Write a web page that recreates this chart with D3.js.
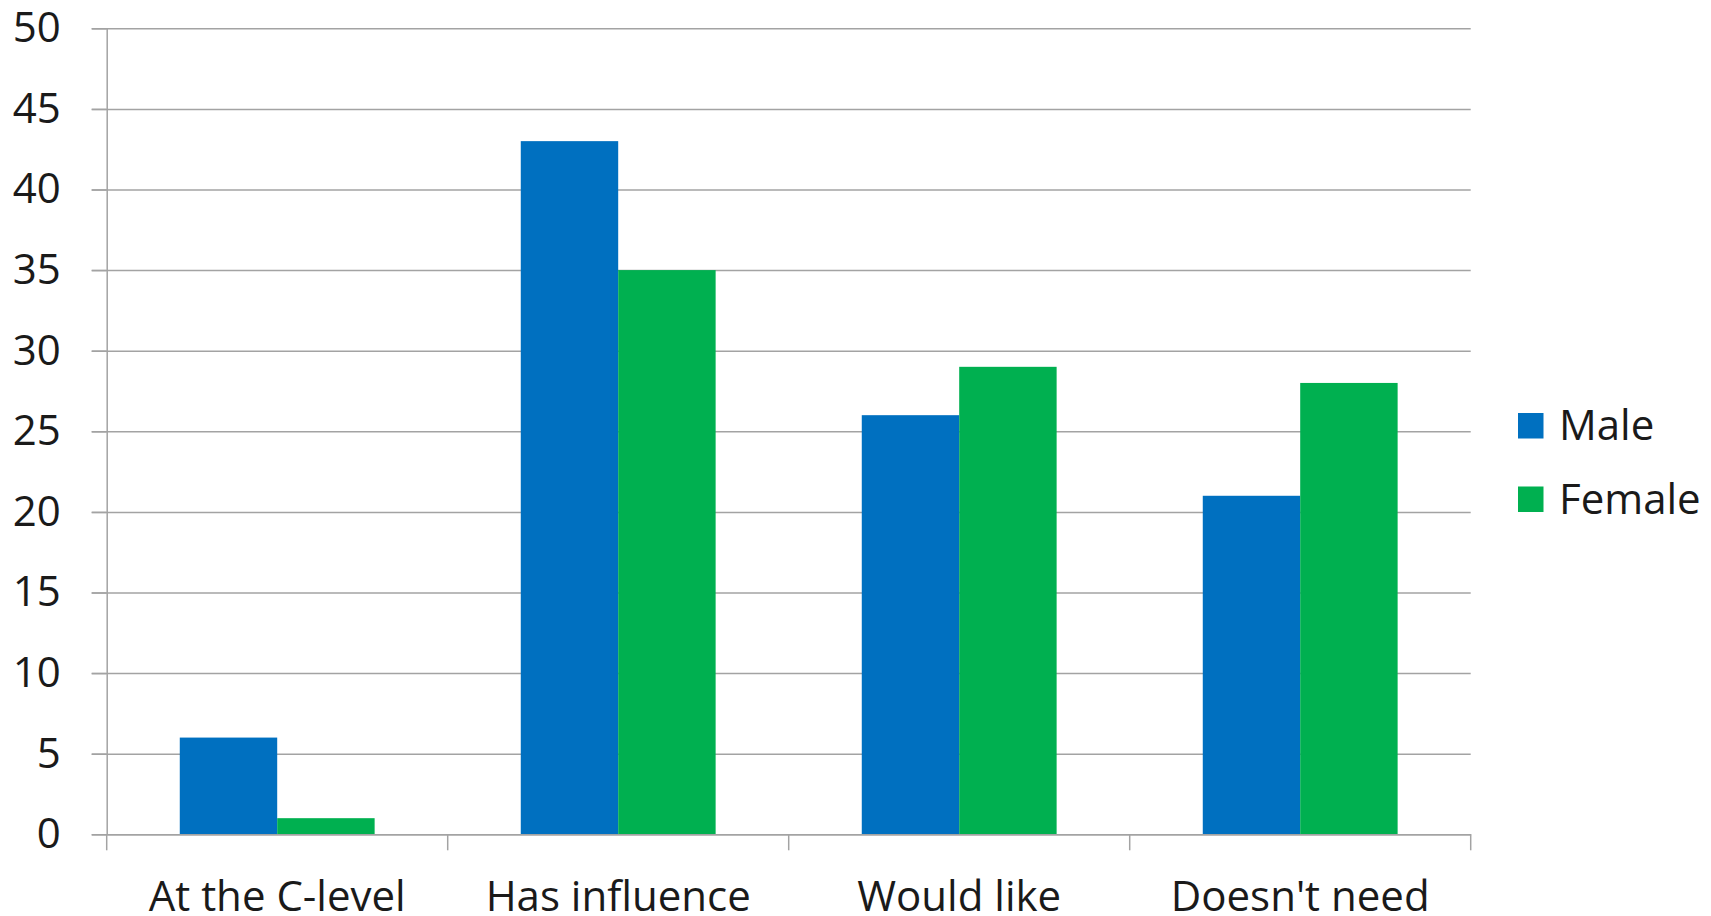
<!DOCTYPE html>
<html>
<head>
<meta charset="utf-8">
<script src="https://d3js.org/d3.v7.min.js"></script>
<style>
  html, body { margin: 0; padding: 0; background: #fff; }
  svg text { font-family: "Open Sans", "Noto Sans", sans-serif; fill: #1a1a1a; }
</style>
</head>
<body>
<svg id="chart" width="1711" height="916"></svg>
<script>
// Survey responses by gender
const categories = ["At the C-level", "Has influence", "Would like", "Doesn't need"];
const seriesNames = ["Male", "Female"];
const maleValues = [6, 43, 26, 21];
const femaleValues = [1, 35, 29, 28];
const yTicks = [0, 5, 10, 15, 20, 25, 30, 35, 40, 45, 50];
const colors = ["#0070C0", "#00B050"];

const seriesValues = [maleValues, femaleValues];

const svg = d3.select("#chart");
const plotLeft = 106.7, plotRight = 1470.7, plotTop = 28.3, plotBottom = 834.3;
const gridColor = "#a3a3a3";
const fontSize = 42;

const x0 = d3.scaleBand().domain(categories).range([plotLeft, plotRight]).paddingInner(0).paddingOuter(0);
const x1 = d3.scaleBand().domain(seriesNames).range([0, x0.bandwidth()]).paddingInner(0).paddingOuter(0.75);
const y = d3.scaleLinear().domain([0, 50]).range([plotBottom, plotTop]);

// horizontal gridlines, extending left past the axis as tick marks
const grid = svg.append("g").attr("transform", `translate(${plotRight},0)`)
  .call(d3.axisLeft(y).tickValues(yTicks).tickSize(plotRight - plotLeft + 15).tickFormat(""));
grid.select(".domain").remove();
grid.selectAll("line").attr("stroke", gridColor).attr("stroke-width", 1.5);

// y axis line and labels
const yAxis = svg.append("g").attr("transform", `translate(${plotLeft},0)`)
  .call(d3.axisLeft(y).tickValues(yTicks).tickSize(15).tickSizeOuter(0).tickPadding(31));
yAxis.select(".domain").attr("stroke", gridColor).attr("stroke-width", 1.5);
yAxis.selectAll("line").attr("stroke", gridColor).attr("stroke-width", 1.5);
yAxis.selectAll("text").style("font-size", fontSize + "px").attr("fill", "#1a1a1a");

// bars
const groups = svg.append("g").selectAll("g")
  .data(categories).join("g")
  .attr("transform", d => `translate(${x0(d)},0)`);

groups.selectAll("rect")
  .data((c, i) => seriesNames.map((s, j) => ({ s, v: seriesValues[j][i], j })))
  .join("rect")
  .attr("x", d => x1(d.s))
  .attr("width", x1.bandwidth())
  .attr("y", d => y(d.v))
  .attr("height", d => y(0) - y(d.v))
  .attr("fill", d => colors[d.j]);

// x axis baseline with category-boundary ticks
const xAxis = svg.append("g").attr("transform", `translate(0,${plotBottom})`)
  .call(d3.axisBottom(x0).tickSize(0).tickPadding(47));
xAxis.select(".domain").attr("stroke", gridColor).attr("stroke-width", 1.5);
xAxis.selectAll("text").style("font-size", fontSize + "px").attr("fill", "#1a1a1a");

const bounds = categories.map(c => x0(c)).concat([x0.range()[1]]);
xAxis.append("g").selectAll("line").data(bounds).join("line")
  .attr("x1", d => d).attr("x2", d => d)
  .attr("y1", 0).attr("y2", 16)
  .attr("stroke", gridColor).attr("stroke-width", 1.5);

// legend
const legend = svg.append("g").attr("transform", "translate(1518,413)");
const item = legend.selectAll("g").data(seriesNames).join("g")
  .attr("transform", (d, i) => `translate(0,${i * 73.5})`);
item.append("rect").attr("width", 25.5).attr("height", 25.5).attr("fill", (d, i) => colors[i]);
item.append("text").attr("x", 41).attr("y", 27).text(d => d)
  .style("font-size", fontSize + "px");
</script>
</body>
</html>
